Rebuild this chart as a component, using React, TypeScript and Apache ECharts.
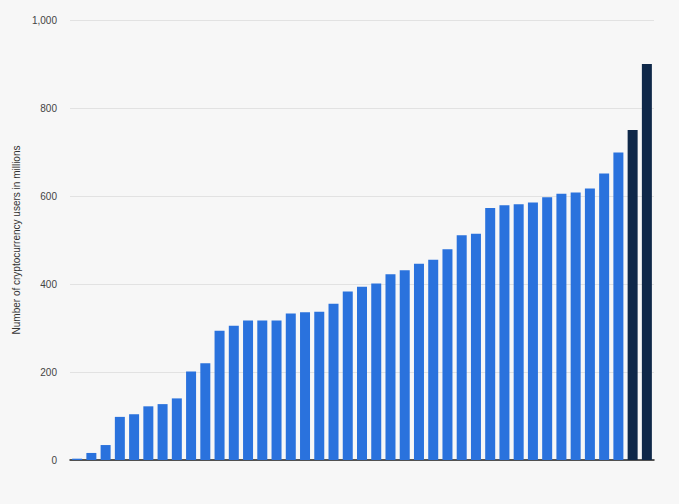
import React, { useEffect, useRef } from "react";
import * as echarts from "echarts";

// 41 unlabeled categories (countries/regions), ranked ascending
const categories: string[] = Array.from({ length: 41 }, (_, i) => String(i + 1));
const values: number[] = [
  3, 16, 34, 98, 104, 122, 127, 140, 201, 220,
  294, 305, 317, 317, 317, 333, 336, 337, 355, 383,
  394, 401, 422, 431, 446, 455, 479, 511, 514, 573,
  579, 581, 585, 597, 605, 608, 617, 651, 699, 750,
  900,
];
// last two bars are highlighted in dark navy
const highlighted: number[] = [39, 40];
const yTicks: number[] = [0, 200, 400, 600, 800, 1000];

const BLUE = "#2a72dd";
const NAVY = "#0f2849";

export default function App() {
  const ref = useRef<HTMLDivElement>(null);
  useEffect(() => {
    if (!ref.current) return;
    const chart = echarts.init(ref.current, undefined, { renderer: "svg" });
    chart.setOption({
      animation: false,
      backgroundColor: "#f7f7f7",
      textStyle: { fontFamily: "Liberation Sans, Arial, sans-serif" },
      grid: { left: 70, right: 25, top: 20, bottom: 44, containLabel: false },
      xAxis: {
        type: "category",
        data: categories,
        axisLine: { show: true, lineStyle: { color: "#222", width: 1.5 } },
        axisTick: { show: false },
        axisLabel: { show: false },
        splitLine: { show: false },
      },
      yAxis: {
        type: "value",
        min: yTicks[0],
        max: yTicks[yTicks.length - 1],
        interval: 200,
        name: "Number of cryptocurrency users in millions",
        nameLocation: "middle",
        nameGap: 41,
        nameRotate: 90,
        nameTextStyle: { fontSize: 10, color: "#333" },
        axisLine: { show: false },
        axisTick: { show: false },
        axisLabel: {
          fontSize: 10,
          color: "#444",
          margin: 13,
          formatter: (v: number) => v.toLocaleString("en-US"),
        },
        splitLine: { lineStyle: { color: "#e2e2e2", width: 1 } },
      },
      series: [
        {
          type: "bar",
          data: values.map((v, i) => ({
            value: v,
            itemStyle: { color: highlighted.includes(i) ? NAVY : BLUE },
          })),
          barWidth: 10,
        },
      ],
    });
    return () => chart.dispose();
  }, []);
  return (
    <div
      ref={ref}
      style={{ position: "fixed", left: 0, top: 0, width: 679, height: 504 }}
    />
  );
}
